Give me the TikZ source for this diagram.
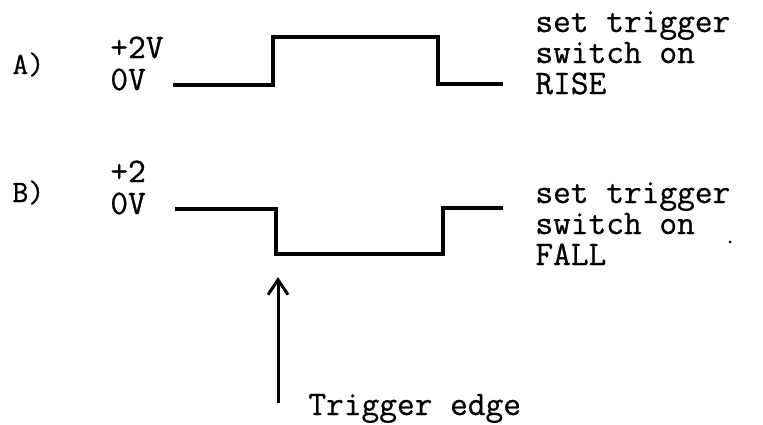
\documentclass[tikz,border=0pt]{standalone}
\usepackage{fontspec}
\usetikzlibrary{arrows.meta}
\newfontfamily\typefont{Latin Modern Mono}[FakeBold=0.7]
\tikzset{
  lbl/.style={font=\typefont\fontsize{17.2}{15.5}\selectfont, inner sep=0pt, anchor=base west, align=left},
  caselbl/.style={font=\typefont\fontsize{15.5}{15}\selectfont, inner sep=0pt, anchor=base west},
  wave/.style={black, line width=1.6pt, line join=miter},
}
\begin{document}
\begin{tikzpicture}[x=0.5pt,y=-0.5pt]
        \useasboundingbox (0,0) rectangle (763,424);

        % case A: rising edge
        \node[caselbl] (caseA) at (12,74) {A)};
        \node[lbl] (highA) at (110,58) {+2V};
        \node[lbl] (lowA) at (110,90) {0V};
        \draw[wave] (173,85) -- (273,85) -- (273,37) -- (438,37) -- (438,84) -- (503,84);
        \node[lbl] (noteA) at (535,94) {set trigger\\switch on\\RISE};

        % case B: falling edge
        \node[caselbl] (caseB) at (12,202) {B)};
        \node[lbl] (highB) at (110,182) {+2};
        \node[lbl] (lowB) at (110,214) {0V};
        \draw[wave] (175,209) -- (276,209) -- (276,254) -- (443,254) -- (443,208) -- (503,208);
        \node[lbl] (noteB) at (535,265) {set trigger\\switch on\\FALL};
        \fill[black] (730,242) circle (1.5);

        % trigger edge
        \coordinate (edgetip) at (278,277);
        \coordinate (edgefoot) at (278,403);
        \node[lbl] (edgelbl) at (308,415) {Trigger edge};
        \draw[line width=1.5pt, -{Straight Barb[length=7.5pt,width=10pt]}] (edgefoot) -- (edgetip);
    \end{tikzpicture}
\end{document}
